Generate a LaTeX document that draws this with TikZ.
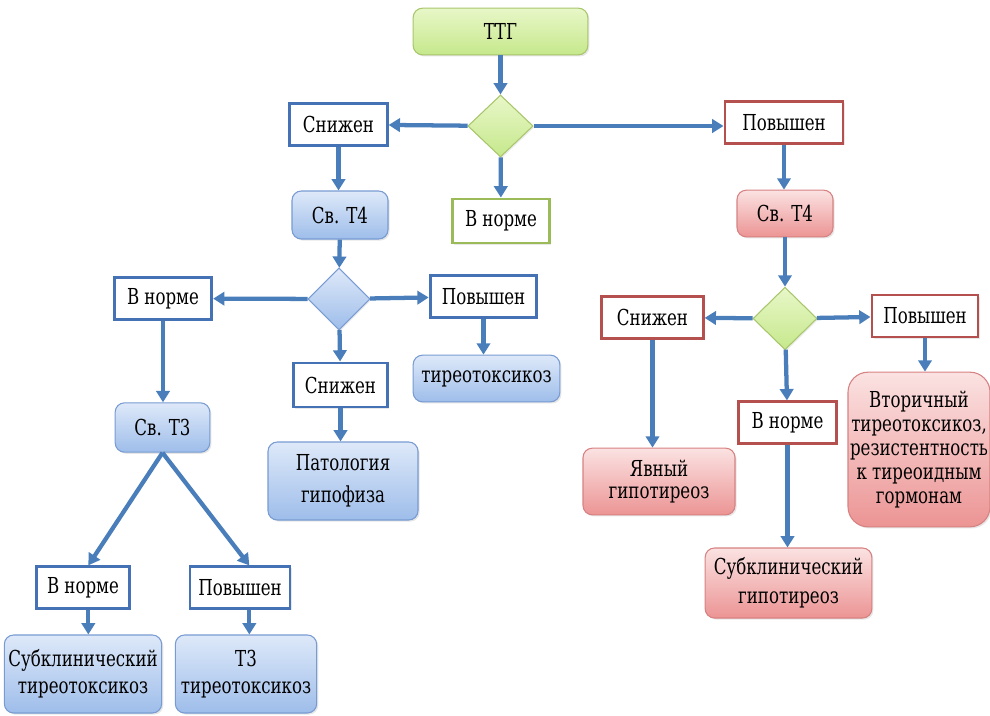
\documentclass[tikz,border=0pt]{standalone}
\usepackage{fontspec}
\setmainfont{DejaVu Serif Condensed}[FakeStretch=0.84]
\usepackage{tikz}
\usetikzlibrary{arrows.meta,positioning,shapes.geometric,shadows}
\definecolor{strelblue}{RGB}{74,126,187}
\definecolor{ramblue}{RGB}{68,114,180}
\definecolor{ramred}{RGB}{180,80,78}
\definecolor{ramgreen}{RGB}{155,187,89}
\definecolor{bluetop}{RGB}{222,233,249}
\definecolor{bluebot}{RGB}{158,189,234}
\definecolor{blueedge}{RGB}{120,155,210}
\definecolor{redtop}{RGB}{251,226,226}
\definecolor{redbot}{RGB}{236,148,148}
\definecolor{rededge}{RGB}{215,130,130}
\definecolor{greentop}{RGB}{232,247,200}
\definecolor{greenbot}{RGB}{198,232,140}
\definecolor{greenedge}{RGB}{168,198,108}
\tikzset{
  tekst/.style={font=\rmfamily\fontsize{16.5}{20}\selectfont, align=center, inner sep=1pt},
  otvet/.style={
    tekst, rectangle, fill=white, line width=2.2pt,
    minimum width=73pt, minimum height=32pt,
    drop shadow={opacity=0.18, shadow xshift=1.2pt, shadow yshift=-1.2pt}
  },
  otvblue/.style={otvet, draw=ramblue},
  otvred/.style={otvet, draw=ramred},
  otvgreen/.style={otvet, draw=ramgreen},
  analiz/.style={
    tekst, rectangle, rounded corners=7pt, line width=0.8pt,
    minimum width=72pt, minimum height=36pt,
    drop shadow={opacity=0.2, shadow xshift=1.2pt, shadow yshift=-1.2pt}
  },
  anblue/.style={analiz, draw=blueedge, top color=bluetop, bottom color=bluebot},
  anred/.style={analiz, draw=rededge, top color=redtop, bottom color=redbot},
  angreen/.style={analiz, draw=greenedge, top color=greentop, bottom color=greenbot},
  romb/.style={
    diamond, inner sep=0pt, line width=0.8pt,
    minimum width=48pt, minimum height=47pt,
    drop shadow={opacity=0.15, shadow xshift=1pt, shadow yshift=-1pt}
  },
  rombgreen/.style={romb, draw=greenedge, top color=greentop, bottom color=greenbot},
  rombblue/.style={romb, draw=blueedge, top color=bluetop, bottom color=bluebot},
  strelka/.style={-{Triangle[length=8.5pt,width=10pt]}, line width=3.2pt, strelblue}
}
\begin{document}
\begin{tikzpicture}[x=0.75pt, y=-0.75pt]
  \useasboundingbox (0,0) rectangle (990,715);

  \node[angreen, minimum width=131pt, minimum height=35pt] (ttg) at (500.5,31.5) {ТТГ};
  \node[rombgreen, minimum width=49pt, minimum height=46.5pt] (r1) at (500.5,126) {};
  \node[otvblue] (snig) at (338.5,124.5) {Снижен};
  \node[otvred, minimum width=88.5pt, minimum height=31pt] (povy) at (784,122.5) {Повышен};
  \node[otvgreen, minimum height=33pt] (norm) at (501,221) {В норме};

  \node[anblue] (t4l) at (340,215) {Св. Т4};
  \node[rombblue, minimum width=46.5pt, minimum height=46.5pt] (r2) at (339,299) {};
  \node[otvblue] (t4norm) at (163,298.5) {В норме};
  \node[otvblue, minimum width=80pt] (t4povy) at (483.5,296.5) {Повышен};
  \node[otvblue, minimum width=71pt, minimum height=33pt] (t4snig) at (340.5,385) {Снижен};
  \node[anblue, minimum width=110pt, minimum height=35pt] (tireo) at (486.5,378.5) {тиреотоксикоз};
  \node[anblue, minimum width=112.5pt, minimum height=58.5pt,
        font=\rmfamily\fontsize{16.5}{24}\selectfont] (gipof) at (343,481) {Патология\\гипофиза};
  \node[anblue, minimum width=71pt, minimum height=37pt] (t3) at (162.5,427.5) {Св. Т3};
  \node[otvblue, minimum width=70pt, minimum height=31pt] (t3norm) at (83,587.5) {В норме};
  \node[otvblue, minimum width=75pt, minimum height=31pt] (t3povy) at (240,587.5) {Повышен};
  \node[anblue, minimum width=118pt, minimum height=58.5pt] (subtox) at (83,674) {Субклинический\\тиреотоксикоз};
  \node[anblue, minimum width=106pt, minimum height=58.5pt] (t3tox) at (246,674) {Т3\\тиреотоксикоз};

  \node[anred, minimum height=35pt] (t4r) at (785,213.5) {Св. Т4};
  \node[rombgreen, minimum width=48pt, minimum height=47pt] (r3) at (785,318.5) {};
  \node[otvred, minimum width=76pt, minimum height=31pt] (rsnig) at (652.5,317.5) {Снижен};
  \node[otvred, minimum width=79.5pt, minimum height=31.5pt] (rpovy) at (925,316) {Повышен};
  \node[otvred, minimum width=74pt, minimum height=31pt] (rnorm) at (787.5,422.5) {В норме};
  \node[anred, minimum width=114pt, minimum height=50pt,
        font=\rmfamily\fontsize{16.5}{17}\selectfont] (yavn) at (659,481.5) {Явный\\гипотиреоз};
  \node[anred, minimum width=106.5pt, minimum height=116pt, rounded corners=15pt,
        font=\rmfamily\fontsize{16.5}{18}\selectfont] (vtor) at (919,449.5)
    {Вторичный\\тиреотоксикоз,\\резистентность\\к тиреоидным\\гормонам};
  \node[anred, minimum width=125pt, minimum height=52.5pt,
        font=\rmfamily\fontsize{16.5}{22}\selectfont] (subgip) at (788.5,583) {Субклинический\\гипотиреоз};

  \draw[strelka] (ttg) -- (r1);
  \draw[strelka] (r1) -- (snig);
  \draw[strelka] (r1) -- (povy.west |- r1);
  \draw[strelka] (r1) -- (norm);
  \draw[strelka] (snig.south) -- (snig.south |- t4l.north);
  \draw[strelka] (povy.south) -- (povy.south |- t4r.north);
  \draw[strelka] (t4l) -- (r2);
  \draw[strelka] (r2) -- (t4norm);
  \draw[strelka] (r2) -- (t4povy);
  \draw[strelka] (r2) -- (t4snig);
  \draw[strelka] (t4povy.south) -- (t4povy.south |- tireo.north);
  \draw[strelka] (t4snig.south) -- (t4snig.south |- gipof.north);
  \draw[strelka] (t4norm.south) -- (t4norm.south |- t3.north);
  \draw[strelka] (t3.south) -- ([xshift=4pt]t3norm.north);
  \draw[strelka] (t3.south) -- ([xshift=7pt]t3povy.north);
  \draw[strelka] ([xshift=4pt]t3norm.south) -- ([xshift=4pt]t3norm.south |- subtox.north);
  \draw[strelka] ([xshift=7pt]t3povy.south) -- ([xshift=7pt]t3povy.south |- t3tox.north);
  \draw[strelka] (t4r) -- (r3);
  \draw[strelka] (r3) -- (rsnig);
  \draw[strelka] (r3) -- (rpovy);
  \draw[strelka] (r3) -- (rnorm);
  \draw[strelka] (rsnig.south) -- (rsnig.south |- yavn.north);
  \draw[strelka] (rpovy.south) -- (rpovy.south |- vtor.north);
  \draw[strelka] (rnorm.south) -- (rnorm.south |- subgip.north);
\end{tikzpicture}
\end{document}
